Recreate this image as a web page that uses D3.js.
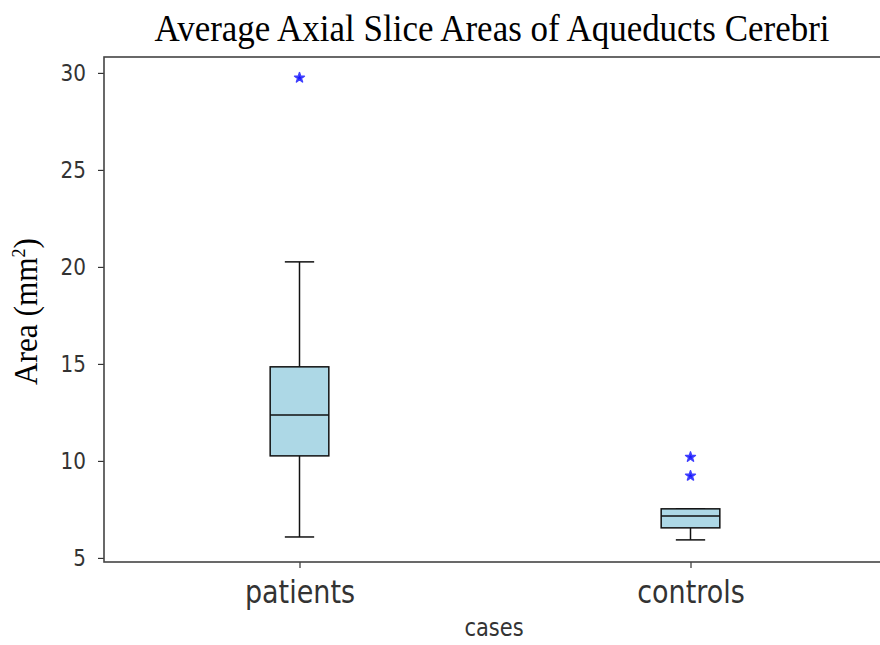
<!DOCTYPE html>
<html>
<head>
<meta charset="utf-8">
<script src="https://cdn.jsdelivr.net/npm/d3@7"></script>
<style>
  body { margin: 0; background: #fff; }
  svg { display: block; }
</style>
</head>
<body>
<div id="chart"></div>
<script>
(function() {

    // box statistics
    var categories = ["patients", "controls"];
    var whiskerLow = [6.08, 5.93];
    var q1 = [10.26, 6.55];
    var median = [12.37, 7.16];
    var q3 = [14.85, 7.53];
    var whiskerHigh = [20.26, 7.53];
    var outliers = [[29.75], [10.2, 9.23]];
    var yTicks = [5, 10, 15, 20, 25, 30];

    var width = 880, height = 645;
    var left = 104, right = 886, top = 57, bottom = 562;

    var svg = d3.select("#chart").append("svg")
        .attr("width", width)
        .attr("height", height);

    var x = d3.scaleLinear().domain([0.5, 2.5]).range([left, right]);
    var y = d3.scaleLinear().domain([4.79, 30.82]).range([bottom, top]);

    var boxW = 0.15, capW = 0.075;

    /* y axis */
    var yAxis = svg.append("g")
        .attr("transform", "translate(" + left + ",0)")
        .call(d3.axisLeft(y).tickValues(yTicks).tickSize(6).tickPadding(12));
    yAxis.select(".domain").remove();
    yAxis.selectAll("line").attr("stroke", "#333").attr("stroke-width", 1.2);
    yAxis.selectAll("text")
        .attr("fill", "#333")
        .attr("transform", "scale(1,1.12)")
        .style("font-family", "DejaVu Sans")
        .style("font-size", "20px");

    /* x axis */
    var xAxis = svg.append("g")
        .attr("transform", "translate(0," + bottom + ")")
        .call(d3.axisBottom(x).tickValues([1, 2])
            .tickFormat(function(d) { return categories[d - 1]; })
            .tickSize(6));
    xAxis.select(".domain").remove();
    xAxis.selectAll("line").attr("stroke", "#333").attr("stroke-width", 1.2);
    // the picture is a bit taller than wide, so stretch the labels vertically
    xAxis.selectAll("text")
        .attr("y", 0).attr("dy", 0)
        .attr("transform", "translate(0,41) scale(1,1.18)")
        .attr("fill", "#333")
        .style("font-family", "DejaVu Sans")
        .style("font-size", "27px");

    /* frame */
    svg.append("rect")
        .attr("x", left).attr("y", top)
        .attr("width", right - left).attr("height", bottom - top)
        .attr("fill", "none")
        .attr("stroke", "#444")
        .attr("stroke-width", 1.6);

    var boxes = svg.selectAll("g.box")
        .data(categories)
        .enter().append("g")
        .attr("class", "box");

    // whiskers
    boxes.append("line")
        .attr("x1", function(d, i) { return x(i + 1); })
        .attr("x2", function(d, i) { return x(i + 1); })
        .attr("y1", function(d, i) { return y(q3[i]); })
        .attr("y2", function(d, i) { return y(whiskerHigh[i]); })
        .attr("stroke", "#111").attr("stroke-width", 1.5);
    boxes.append("line")
        .attr("x1", function(d, i) { return x(i + 1); })
        .attr("x2", function(d, i) { return x(i + 1); })
        .attr("y1", function(d, i) { return y(q1[i]); })
        .attr("y2", function(d, i) { return y(whiskerLow[i]); })
        .attr("stroke", "#111").attr("stroke-width", 1.5);

    // caps
    boxes.append("line")
        .attr("x1", function(d, i) { return x(i + 1 - capW / 2); })
        .attr("x2", function(d, i) { return x(i + 1 + capW / 2); })
        .attr("y1", function(d, i) { return y(whiskerHigh[i]); })
        .attr("y2", function(d, i) { return y(whiskerHigh[i]); })
        .attr("stroke", "#111").attr("stroke-width", 1.5);
    boxes.append("line")
        .attr("x1", function(d, i) { return x(i + 1 - capW / 2); })
        .attr("x2", function(d, i) { return x(i + 1 + capW / 2); })
        .attr("y1", function(d, i) { return y(whiskerLow[i]); })
        .attr("y2", function(d, i) { return y(whiskerLow[i]); })
        .attr("stroke", "#111").attr("stroke-width", 1.5);

    // box
    boxes.append("rect")
        .attr("x", function(d, i) { return x(i + 1 - boxW / 2); })
        .attr("width", function(d, i) { return x(i + 1 + boxW / 2) - x(i + 1 - boxW / 2); })
        .attr("y", function(d, i) { return y(q3[i]); })
        .attr("height", function(d, i) { return y(q1[i]) - y(q3[i]); })
        .attr("fill", "#add8e6")
        .attr("stroke", "#111").attr("stroke-width", 1.5);

    // median
    boxes.append("line")
        .attr("x1", function(d, i) { return x(i + 1 - boxW / 2); })
        .attr("x2", function(d, i) { return x(i + 1 + boxW / 2); })
        .attr("y1", function(d, i) { return y(median[i]); })
        .attr("y2", function(d, i) { return y(median[i]); })
        .attr("stroke", "#111").attr("stroke-width", 1.5);

    // outliers
    var star = d3.symbol().type(d3.symbolStar).size(30);
    boxes.each(function(d, i) {
        d3.select(this).selectAll("path.flier")
            .data(outliers[i])
            .enter().append("path")
            .attr("class", "flier")
            .attr("d", star)
            .attr("transform", function(v) {
                return "translate(" + x(i + 1) + "," + y(v) + ")";
            })
            .attr("fill", "#1a1aff")
            .attr("stroke", "#4040ff")
            .attr("stroke-width", 1.5)
            .attr("stroke-linejoin", "round");
    });

    /* titles */
    svg.append("text")
        .attr("x", 492)
        .attr("y", 41)
        .attr("text-anchor", "middle")
        .attr("textLength", 675)
        .attr("lengthAdjust", "spacingAndGlyphs")
        .style("font-family", "Liberation Serif")
        .style("font-size", "37px")
        .text("Average Axial Slice Areas of Aqueducts Cerebri");

    var yl = svg.append("text")
        .attr("transform", "translate(37," + ((top + bottom) / 2 + 2) + ") rotate(-90)")
        .attr("text-anchor", "middle")
        .attr("textLength", 147)
        .attr("lengthAdjust", "spacingAndGlyphs")
        .style("font-family", "Liberation Serif")
        .style("font-size", "33px");
    yl.append("tspan").text("Area (mm");
    yl.append("tspan").attr("dy", -12).style("font-size", "19px").text("2");
    yl.append("tspan").attr("dy", 12).text(")");

    svg.append("text")
        .attr("transform", "translate(494,636) scale(1,1.15)")
        .attr("text-anchor", "middle")
        .attr("fill", "#333")
        .style("font-family", "DejaVu Sans")
        .style("font-size", "21px")
        .text("cases");

})();
</script>
</body>
</html>
